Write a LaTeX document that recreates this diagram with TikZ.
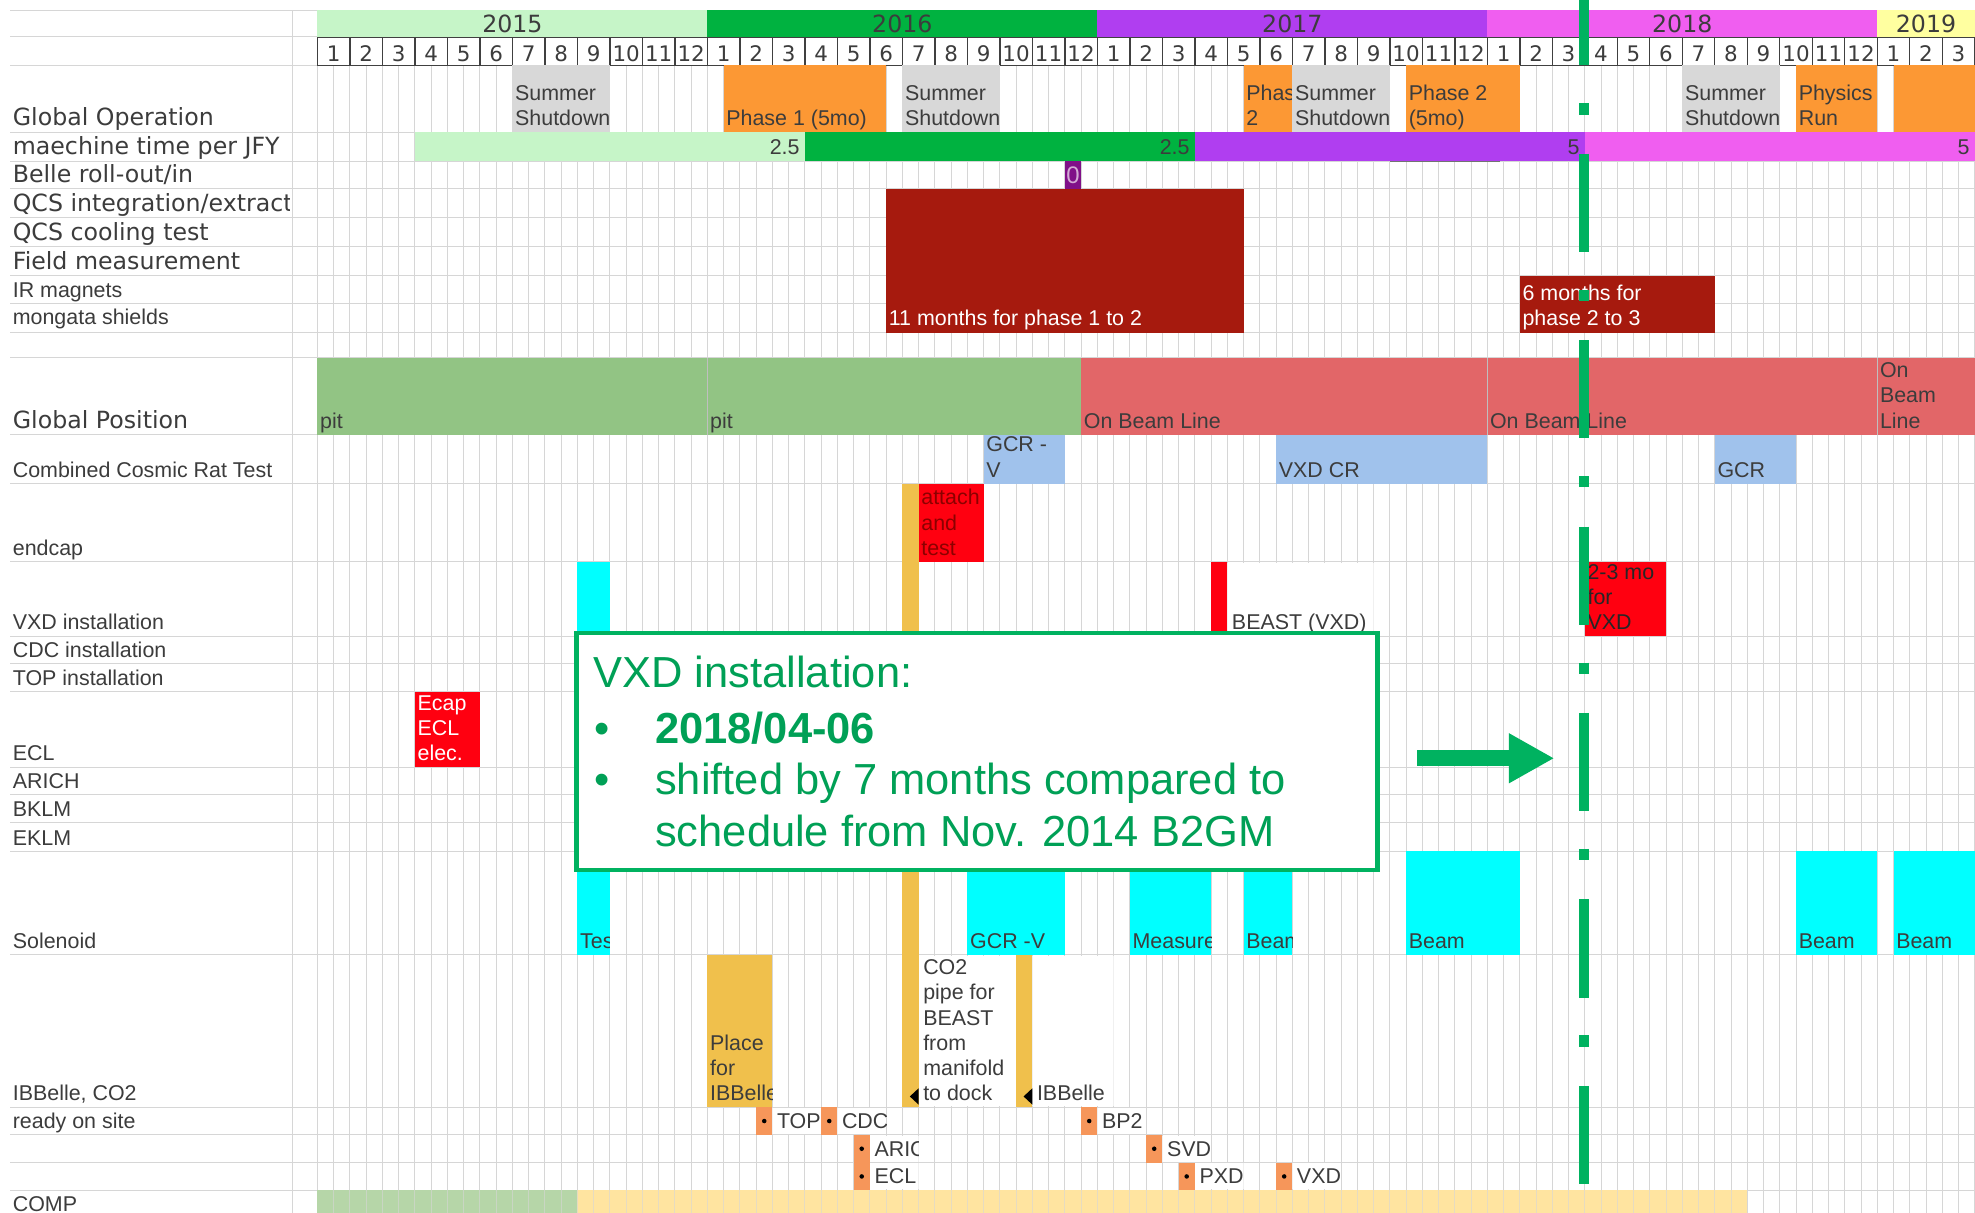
\documentclass[tikz,border=0pt]{standalone}
\usepackage{fontspec}
\setmainfont{Liberation Sans}
\newfontfamily\verdfont{DejaVu Sans}
\usetikzlibrary{arrows.meta}

\definecolor{gridgray}{RGB}{214,214,214}
\definecolor{textgray}{RGB}{60,60,60}
\definecolor{yrlight}{RGB}{198,245,200}
\definecolor{yrgreen}{RGB}{0,178,64}
\definecolor{yrpurple}{RGB}{176,62,240}
\definecolor{yrpink}{RGB}{240,94,240}
\definecolor{yryellow}{RGB}{255,255,160}
\definecolor{shutgray}{RGB}{216,216,216}
\definecolor{phaseorange}{RGB}{252,152,52}
\definecolor{darkred}{RGB}{166,26,14}
\definecolor{pitgreen}{RGB}{146,196,132}
\definecolor{beamred}{RGB}{226,102,104}
\definecolor{crtblue}{RGB}{160,194,236}
\definecolor{hotred}{RGB}{255,0,16}
\definecolor{attacred}{RGB}{140,0,0}
\definecolor{ibgold}{RGB}{240,192,76}
\definecolor{solcyan}{RGB}{0,255,255}
\definecolor{compgreen}{RGB}{182,214,168}
\definecolor{compcream}{RGB}{255,228,160}
\definecolor{readyorange}{RGB}{246,150,90}
\definecolor{bellepurple}{RGB}{128,16,136}
\definecolor{vxdgreen}{RGB}{0,178,96}

\newcommand{\cellfont}{\fontsize{17}{20}\selectfont}
\newcommand{\headfont}{\verdfont\fontsize{18.8}{22}\selectfont}
\newcommand{\monthfont}{\verdfont\fontsize{17}{20}\selectfont}
\newcommand{\calloutfont}{\fontsize{34.5}{41}\selectfont}

\tikzset{
  gridline/.style={draw=gridgray, line width=0.7pt},
  monthbox/.style={draw=black!75, line width=1.1pt},
  celltext/.style={font=\cellfont, text=textgray, inner sep=0pt, align=left},
  rowlabel/.style={font=\cellfont, text=textgray, inner sep=0pt, anchor=base west},
  headlabel/.style={font=\headfont, text=textgray, inner sep=0pt, anchor=base west},
  inmonths/.style={xshift=252pt, x=25.8pt},
  vxdline/.style={draw=vxdgreen, line width=8.5pt, dash pattern=on 78pt off 30pt on 9pt off 31pt, dash phase=26pt},
  notebox/.style={draw=vxdgreen, line width=3.5pt, fill=white, inner sep=0pt},
  notetext/.style={font=\calloutfont, text=vxdgreen!90!black, inner sep=0pt, anchor=base west},
}

% bar: name, from month, to month, top, bottom, fill, text colour, text
\newcommand{\gbar}[8]{%
  \fill[#6] (#2,#4) rectangle (#3,#5);
  \begin{scope}
    \clip (#2,#4) rectangle (#3,#5);
    \node[celltext, text=#7, anchor=south west, xshift=2pt] (#1) at (#2,#5+1) {#8\strut};
  \end{scope}}

% text running over empty cells: name, from month, to month, top, bottom, text
\newcommand{\spill}[6]{%
  \begin{scope}
    \clip (#2,#4) rectangle (#3,#5);
    \fill[white] (#2,#4+0.7) rectangle (#3,#5-0.7);
    \node[celltext, anchor=south west, xshift=3.5pt] (#1) at (#2,#5+1) {#6\strut};
  \end{scope}}

% ready on site: name, month, top, bottom, end month, text
\newcommand{\readymark}[6]{%
  \fill[readyorange] (#2,#3) rectangle (#2+0.5,#4);
  \fill[black] (#2+0.25,{(#3+#4)/2}) circle[radius=1.8pt];
  \spill{#1}{#2+0.5}{#5}{#3}{#4}{#6}}

\begin{document}
\begin{tikzpicture}[x=1pt, y=-1pt]
\useasboundingbox (0,0) rectangle (1568,963);
\fill[white] (0,0) rectangle (1568,963);

\foreach \r in {8,29,52,105,128,150,173,196,219,241,264,284,345,384,446,505,527,549,609,631,653,676,758,879,901,923,945}
  \draw[gridline] (8,\r) -- (1568,\r);
\draw[gridline] (232,8) -- (232,963);
\draw[gridline] (252,8) -- (252,52);

\node[headlabel] (lblop) at (10,100) {Global Operation};
\node[headlabel] (lbljfy) at (10,123) {maechine time per JFY};
\node[headlabel] (lblbelle) at (10,145) {Belle roll-out/in};
\begin{scope}
  \clip (8,150) rectangle (230,173);
  \node[headlabel] (lblqcsint) at (10,168) {QCS integration/extract};
\end{scope}
\node[headlabel] (lblqcscool) at (10,191) {QCS cooling test};
\node[headlabel] (lblfield) at (10,214) {Field measurement};
\node[rowlabel] (lblir) at (10,236) {IR magnets};
\node[rowlabel] (lblshield) at (10,258) {mongata shields};
\node[headlabel] (lblpos) at (10,340) {Global Position};
\node[rowlabel] (lblcrt) at (10,379) {Combined Cosmic Rat Test};
\node[rowlabel] (lblendcap) at (10,441) {endcap};
\node[rowlabel] (lblvxd) at (10,500) {VXD installation};
\node[rowlabel] (lblcdc) at (10,522) {CDC installation};
\node[rowlabel] (lbltop) at (10,544) {TOP installation};
\node[rowlabel] (lblecl) at (10,604) {ECL};
\node[rowlabel] (lblarich) at (10,626) {ARICH};
\node[rowlabel] (lblbklm) at (10,648) {BKLM};
\node[rowlabel] (lbleklm) at (10,671) {EKLM};
\node[rowlabel] (lblsol) at (10,753) {Solenoid};
\node[rowlabel] (lblib) at (10,874) {IBBelle, CO2};
\node[rowlabel] (lblready) at (10,896) {ready on site};
\node[rowlabel] (lblcomp) at (10,962) {COMP};

\begin{scope}[inmonths]
\foreach \k in {0,0.5,...,51}
  \draw[gridline] (\k,52) -- (\k,963);

\foreach \yr/\col/\ka/\kb in {2015/yrlight/0/12, 2016/yrgreen/12/24, 2017/yrpurple/24/36, 2018/yrpink/36/48, 2019/yryellow/48/51} {
  \fill[\col] (\ka,8) rectangle (\kb,29);
  \node[font=\headfont, text=textgray, inner sep=0pt, anchor=base] (yr\yr) at ({(\ka+\kb)/2},26) {\yr};
}
\foreach \k in {0,...,50} {
  \pgfmathtruncatemacro{\mo}{mod(\k,12)+1}
  \draw[monthbox] (\k,30) rectangle (\k+1,52);
  \node[font=\monthfont, text=textgray, inner sep=0pt, anchor=base] (mo\k) at (\k+0.5,48.5) {\mo};
}

\gbar{shut15}{6}{9}{52}{105}{shutgray}{textgray}{Summer\\Shutdown}
\gbar{phase1}{12.5}{17.5}{52}{105}{phaseorange}{textgray}{Phase 1 (5mo)}
\gbar{shut16}{18}{21}{52}{105}{shutgray}{textgray}{Summer\\Shutdown}
\gbar{phasetwoa}{28.5}{30}{52}{105}{phaseorange}{textgray}{Phas\\2}
\gbar{shut17}{30}{33}{52}{105}{shutgray}{textgray}{Summer\\Shutdown}
\gbar{phasetwo}{33.5}{37}{52}{105}{phaseorange}{textgray}{Phase 2\\(5mo)}
\gbar{shut18}{42}{45}{52}{105}{shutgray}{textgray}{Summer\\Shutdown}
\gbar{physrun}{45.5}{48}{52}{105}{phaseorange}{textgray}{Physics\\Run}
\gbar{run19}{48.5}{51}{52}{105}{phaseorange}{textgray}{}

\foreach \ka/\kb/\col/\val in {3/15/yrlight/2.5, 15/27/yrgreen/2.5, 27/39/yrpurple/5, 39/51/yrpink/5} {
  \fill[\col] (\ka,105) rectangle (\kb,128);
  \node[celltext, anchor=base east, xshift=-4pt] (jfy\ka) at (\kb,123) {\val};
}
\draw[black!55, line width=1pt] (33,128) -- (36.4,128);

\fill[bellepurple] (23,128) rectangle (23.5,150);
\node[font=\fontsize{19}{20}\selectfont, text=bellepurple!35!white, inner sep=0pt] (belle) at (23.25,139.5) {0};

\gbar{qcsone}{17.5}{28.5}{150}{264}{darkred}{white}{11 months for phase 1 to 2}
\gbar{qcstwo}{37}{43}{219}{264}{darkred}{white}{6 months for\\phase 2 to 3}

\gbar{posa}{0}{12}{284}{345}{pitgreen}{textgray}{pit}
\gbar{posb}{12}{23.5}{284}{345}{pitgreen}{textgray}{pit}
\gbar{posc}{23.5}{36}{284}{345}{beamred}{textgray}{On Beam Line}
\gbar{posd}{36}{48}{284}{345}{beamred}{textgray}{On Beam Line}
\gbar{pose}{48}{51}{284}{345}{beamred}{textgray}{On\\Beam\\Line}
\foreach \k in {12,36,48}
  \draw[white!75!black, line width=0.6pt] (\k,284) -- (\k,345);

\gbar{gcrv}{20.5}{23}{345}{384}{crtblue}{textgray}{GCR -\\V}
\gbar{vxdcr}{29.5}{36}{345}{384}{crtblue}{textgray}{VXD CR}
\gbar{gcr}{43}{45.5}{345}{384}{crtblue}{textgray}{GCR}

\gbar{co2bar}{18}{18.5}{384}{879}{ibgold}{textgray}{}
\gbar{attach}{18.5}{20.5}{384}{446}{hotred}{attacred}{attach\\and\\test}
\gbar{vxdtest}{8}{9}{446}{758}{solcyan}{textgray}{Test}
\gbar{beastbar}{27.5}{28}{446}{505}{hotred}{textgray}{}
\spill{beast}{28}{32.5}{446}{505}{BEAST (VXD)}
\gbar{vxdmo}{39}{41.5}{446}{505}{hotred}{black!85}{2-3 mo\\for\\VXD}
\gbar{ecap}{3}{5}{549}{609}{hotred}{white}{Ecap\\ECL\\elec.}

\gbar{solgcr}{20}{23}{676}{758}{solcyan}{textgray}{GCR -V}
\gbar{solmeas}{25}{27.5}{676}{758}{solcyan}{textgray}{Measure}
\gbar{solbeama}{28.5}{30}{676}{758}{solcyan}{textgray}{Beam}
\gbar{solbeamb}{33.5}{37}{676}{758}{solcyan}{textgray}{Beam}
\gbar{solbeamc}{45.5}{48}{676}{758}{solcyan}{textgray}{Beam}
\gbar{solbeamd}{48.5}{51}{676}{758}{solcyan}{textgray}{Beam}

\gbar{place}{12}{14}{758}{879}{ibgold}{textgray}{Place\\for\\IBBelle}
\spill{co2pipe}{18.5}{21.5}{758}{879}{CO2\\pipe for\\BEAST\\from\\manifold\\to dock}
\gbar{ibbar}{21.5}{22}{758}{879}{ibgold}{textgray}{}
\spill{ibbelle}{22}{24.5}{758}{879}{IBBelle}
\fill[black] (18.5,864) -- (18.5,877) -- (18.23,870.5) -- cycle;
\fill[black] (22,864) -- (22,877) -- (21.73,870.5) -- cycle;

\readymark{rtop}{13.5}{879}{901}{15.5}{TOP}
\readymark{rcdc}{15.5}{879}{901}{17.5}{CDC}
\readymark{rbp}{23.5}{879}{901}{25.5}{BP2}
\readymark{rarich}{16.5}{901}{923}{18.5}{ARICH}
\readymark{rsvd}{25.5}{901}{923}{27.5}{SVD}
\readymark{recl}{16.5}{923}{945}{18.5}{ECL}
\readymark{rpxd}{26.5}{923}{945}{28.5}{PXD}
\readymark{rvxd}{29.5}{923}{945}{31.5}{VXD}

\fill[compgreen] (0,945) rectangle (8,963);
\fill[compcream] (8,945) rectangle (44,963);
\foreach \k in {0.5,1,...,43.5}
  \draw[gridgray, opacity=0.6, line width=0.7pt] (\k,945) -- (\k,963);
\end{scope}

\coordinate (vxdtop) at (1257.5,0);
\coordinate (vxdbot) at (1257.5,942);
\draw[vxdline] (vxdtop) -- (vxdbot);

\node[notebox, anchor=north west, minimum width=636pt, minimum height=188pt] (note) at (456,501) {};
\node[notetext] (notetitle) at (471,546) {VXD installation:};
\node[notetext] (bulleta) at (472,590) {•};
\node[notetext, font=\calloutfont\bfseries] (notedate) at (520,590) {2018/04-06};
\node[notetext] (bulletb) at (472,631) {•};
\node[notetext] (noteshift) at (520,631) {shifted by 7 months compared to};
\node[notetext] (notesched) at (520,672) {schedule from Nov. 2014 B2GM};

\coordinate (arrowtail) at (1125,602);
\coordinate (arrowtip) at (1234,602);
\draw[vxdgreen, line width=12.5pt, -{Triangle[length=36pt, width=37pt]}] (arrowtail) -- (arrowtip);
\end{tikzpicture}
\end{document}
